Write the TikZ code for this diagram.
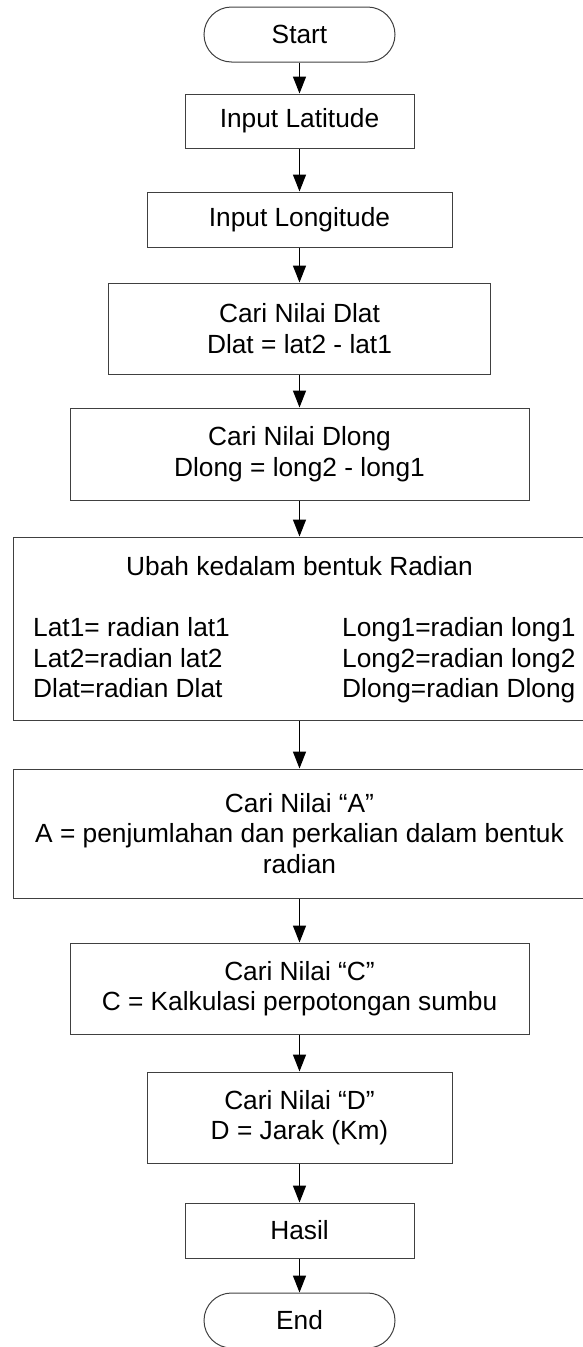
\documentclass[tikz,border=0pt]{standalone}
\usepackage{fontspec}
\setmainfont{Liberation Sans}
\usetikzlibrary{arrows.meta}

\begin{document}
\begin{tikzpicture}[x=1pt, y=-1pt,
    every text node part/.style={align=center},
    every node/.style={font=\fontsize{26.3}{30.5}\selectfont, inner sep=0pt},
    box/.style={draw=black!75, line width=1pt},
    term/.style={box, rounded corners=27.5pt, minimum width=191pt, minimum height=55pt},
    flow/.style={-{Triangle[length=17pt,width=13pt]}, line width=1.6pt}]
      \useasboundingbox (0,0) rectangle (583,1347);

      \node[term] (startN) at (299.5,34.5) {Start};
      \node[box, minimum width=229pt, minimum height=54pt] (latN)   at (299.5,121)   {Input Latitude};
      \node[box, minimum width=305pt, minimum height=55pt] (longN)  at (299.5,219.5) {Input Longitude};
      \node[box, minimum width=382pt, minimum height=91pt] (dlatN)  at (299.5,328.5) {Cari Nilai Dlat\\Dlat = lat2 - lat1};
      \node[box, minimum width=459pt, minimum height=92pt] (dlongN) at (299.5,454)   {Cari Nilai Dlong\\Dlong = long2 - long1};

      \node[box, minimum width=573pt, minimum height=183pt] (radN) at (299.5,628.5) {};
      \node[anchor=base]      (radTitle) at (299.5,575) {Ubah kedalam bentuk Radian};
      \node[anchor=base west] (radL1)    at (33,636)    {Lat1= radian lat1};
      \node[anchor=base west] (radL2)    at (33,667)    {Lat2=radian lat2};
      \node[anchor=base west] (radL3)    at (33,697)    {Dlat=radian Dlat};
      \node[anchor=base west] (radR1)    at (342,636)   {Long1=radian long1};
      \node[anchor=base west] (radR2)    at (342,667)   {Long2=radian long2};
      \node[anchor=base west] (radR3)    at (342,697)   {Dlong=radian Dlong};

      \node[box, minimum width=573pt, minimum height=129pt] (nilaiAN) at (299.5,833.5)  {Cari Nilai “A”\\A = penjumlahan dan perkalian dalam bentuk\\radian};
      \node[box, minimum width=459pt, minimum height=91pt]  (nilaiCN) at (299.5,988.5)  {Cari Nilai “C”\\C = Kalkulasi perpotongan sumbu};
      \node[box, minimum width=305pt, minimum height=91pt]  (nilaiDN) at (299.5,1117.5) {Cari Nilai “D”\\D = Jarak (Km)};
      \node[box, minimum width=229pt, minimum height=55pt]  (hasilN)  at (299.5,1230.5) {Hasil};
      \node[term] (endN) at (299.5,1320.5) {End};

      \draw [flow] (startN.south)  -- (latN.north);
      \draw [flow] (latN.south)    -- (longN.north);
      \draw [flow] (longN.south)   -- (dlatN.north);
      \draw [flow] (dlatN.south)   -- (dlongN.north);
      \draw [flow] (dlongN.south)  -- (radN.north);
      \draw [flow] (radN.south)    -- (nilaiAN.north);
      \draw [flow] (nilaiAN.south) -- (nilaiCN.north);
      \draw [flow] (nilaiCN.south) -- (nilaiDN.north);
      \draw [flow] (nilaiDN.south) -- (hasilN.north);
      \draw [flow] (hasilN.south)  -- (endN.north);
    \end{tikzpicture}
\end{document}
